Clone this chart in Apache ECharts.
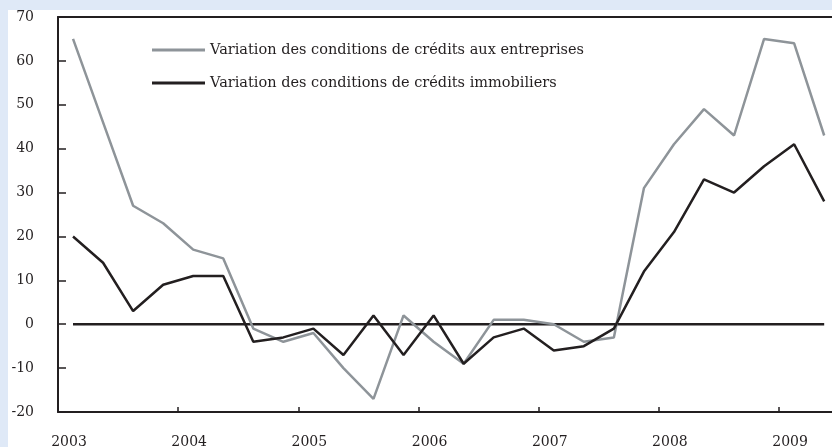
<!DOCTYPE html>
<html>
<head>
<meta charset="utf-8">
<script src="https://cdn.jsdelivr.net/npm/echarts@6/dist/echarts.min.js"></script>
<style>
    html, body { margin: 0; padding: 0; background: #dfe9f7; }
    #chart { position: absolute; left: 8px; top: 10px; width: 824px; height: 437px; background: #ffffff; }
</style>
</head>
<body>
<div id="chart"></div>
<script>
// trimestres, de 2003T1 à 2009T2
const quarters = [
    '2003T1', '2003T2', '2003T3', '2003T4',
    '2004T1', '2004T2', '2004T3', '2004T4',
    '2005T1', '2005T2', '2005T3', '2005T4',
    '2006T1', '2006T2', '2006T3', '2006T4',
    '2007T1', '2007T2', '2007T3', '2007T4',
    '2008T1', '2008T2', '2008T3', '2008T4',
    '2009T1', '2009T2'
];

const entreprises = [
    65, 46, 27, 23, 17, 15, -1, -4, -2, -10, -17, 2, -4,
    -9, 1, 1, 0, -4, -3, 31, 41, 49, 43, 65, 64, 43
];

const immobiliers = [
    20, 14, 3, 9, 11, 11, -4, -3, -1, -7, 2, -7, 2,
    -9, -3, -1, -6, -5, -1, 12, 21, 33, 30, 36, 41, 28
];

const zero = quarters.map(() => 0);

const yearTicks = [2003, 2004, 2005, 2006, 2007, 2008, 2009];
const names = [
    'Variation des conditions de crédits aux entreprises',
    'Variation des conditions de crédits immobiliers'
];

// position du trimestre au milieu de sa période
const qPos = (q) => {
    const y = parseInt(q.slice(0, 4), 10);
    const n = parseInt(q.slice(5), 10);
    return y + (n - 0.5) / 4;
};
const toPairs = (vals) => quarters.map((q, i) => [qPos(q), vals[i]]);

const ink = '#231f20';
const grey = '#8e9499';
const serif = 'DejaVu Serif';

const chart = echarts.init(document.getElementById('chart'));

chart.setOption({
    animation: false,
    grid: { left: 50, right: 0, top: 7, bottom: 35, outerBoundsMode: 'none' },
    legend: {
        data: names,
        orient: 'vertical',
        left: 144,
        top: 31,
        padding: 0,
        icon: 'rect',
        itemWidth: 53,
        itemHeight: 3,
        itemGap: 15,
        textStyle: { fontFamily: serif, fontSize: 14.5, color: ink, lineHeight: 18 }
    },
    xAxis: [
        {
            type: 'value',
            min: yearTicks[0],
            max: 2009.44,
            interval: 1,
            axisLine: { onZero: false, lineStyle: { color: ink, width: 2 } },
            axisTick: { inside: true, length: 5, lineStyle: { color: ink, width: 1.5 } },
            splitLine: { show: false },
            axisLabel: {
                showMaxLabel: false,
                margin: 23,
                padding: [0, 0, 0, 22],
                fontFamily: serif,
                fontSize: 14,
                color: ink,
                formatter: (v) => String(Math.round(v))
            }
        },
        {
            type: 'value',
            position: 'top',
            min: yearTicks[0],
            max: 2009.44,
            axisLine: { show: true, onZero: false, lineStyle: { color: ink, width: 2 } },
            axisTick: { show: false },
            axisLabel: { show: false },
            splitLine: { show: false }
        }
    ],
    yAxis: {
        type: 'value',
        min: -20,
        max: 70,
        interval: 10,
        axisLine: { show: true, onZero: false, lineStyle: { color: ink, width: 2 } },
        axisTick: { show: true, inside: true, length: 8, lineStyle: { color: ink, width: 1.5 } },
        splitLine: { show: false },
        axisLabel: { margin: 24, padding: [4, 0, 0, 0], fontFamily: serif, fontSize: 14, color: ink }
    },
    series: [
        {
            name: 'zero',
            type: 'line',
            data: toPairs(zero),
            symbol: 'none',
            silent: true,
            lineStyle: { color: ink, width: 2.5 },
            z: 1
        },
        {
            name: names[0],
            type: 'line',
            data: toPairs(entreprises),
            symbol: 'none',
            itemStyle: { color: grey },
            lineStyle: { color: grey, width: 2.5 },
            z: 2
        },
        {
            name: names[1],
            type: 'line',
            data: toPairs(immobiliers),
            symbol: 'none',
            itemStyle: { color: ink },
            lineStyle: { color: ink, width: 2.5 },
            z: 3
        }
    ]
});

window.addEventListener('resize', () => chart.resize());
</script>
</body>
</html>
